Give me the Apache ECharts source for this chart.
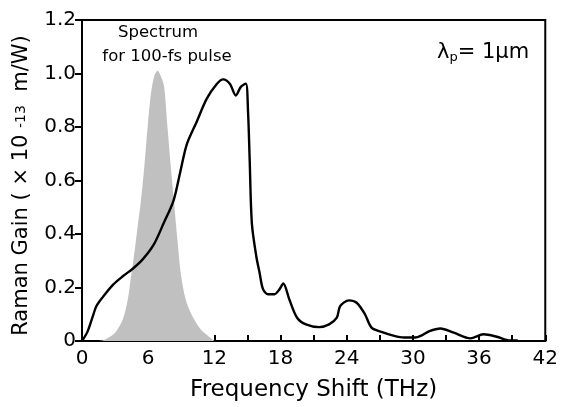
<!DOCTYPE html>
<html>
<head>
<meta charset="utf-8">
<script src="https://cdn.jsdelivr.net/npm/echarts@6/dist/echarts.min.js"></script>
<style>
html,body{margin:0;padding:0;background:#fff;}
#c{width:561px;height:407px;}
</style>
</head>
<body>
<div id="c"></div>
<script>
// Raman gain curve (THz, ×10^-13 m/W)
const gainX = [0, 0.5, 1.0, 1.3, 1.9, 2.8, 3.7, 4.6, 5.5, 6.5, 7.4, 8.3, 8.9, 9.5, 10.4, 11.3, 12.2, 12.8, 13.4, 13.95, 14.4, 14.85, 15.05, 15.2, 15.4, 15.8, 16.1, 16.4, 16.85, 17.45, 17.9, 18.25, 18.8, 19.5, 20.3, 21.5, 22.4, 23.1, 23.4, 24.2, 24.9, 25.65, 26.25, 27.15, 28.3, 29.2, 30.2, 30.7, 31.5, 32.5, 33.7, 35.2, 36.4, 37.6, 38.8, 39.5];
const gainY = [0, 0.035, 0.095, 0.13, 0.165, 0.21, 0.242, 0.27, 0.305, 0.36, 0.44, 0.525, 0.63, 0.735, 0.82, 0.905, 0.96, 0.978, 0.962, 0.918, 0.95, 0.962, 0.86, 0.68, 0.44, 0.317, 0.255, 0.195, 0.175, 0.175, 0.193, 0.215, 0.155, 0.087, 0.062, 0.052, 0.062, 0.087, 0.13, 0.152, 0.143, 0.1, 0.05, 0.034, 0.019, 0.013, 0.013, 0.019, 0.037, 0.047, 0.031, 0.01, 0.025, 0.016, 0.002, 0.002];
// Spectrum of the 100-fs pulse (normalized)
const specX = [1.5, 2.1, 3.0, 3.7, 4.15, 4.45, 4.75, 5.05, 5.35, 5.65, 5.95, 6.25, 6.55, 6.85, 7.15, 7.45, 7.75, 8.05, 8.35, 8.65, 8.95, 9.4, 10.0, 10.75, 11.6, 12.0];
const specY = [0, 0.006, 0.031, 0.081, 0.155, 0.242, 0.33, 0.429, 0.528, 0.652, 0.80, 0.925, 0.99, 1.01, 0.99, 0.95, 0.80, 0.652, 0.516, 0.379, 0.255, 0.155, 0.093, 0.044, 0.013, 0];
// Axis ticks
const xTicks = {min: 0, max: 42, step: 3, labelStep: 6};
const yTicks = {min: 0, max: 1.2, step: 0.2};

const FONT = '"DejaVu Sans", "Liberation Sans", Arial, sans-serif';
const chart = echarts.init(document.getElementById('c'), null, {renderer: 'canvas'});
chart.setOption({
  animation: false,
  backgroundColor: '#fff',
  grid: {left: 82, right: 11, top: 20, bottom: 65, show: true, borderColor: '#000', borderWidth: 2, backgroundColor: 'transparent'},
  xAxis: {
    type: 'value', min: xTicks.min, max: xTicks.max, interval: xTicks.step,
    name: 'Frequency Shift (THz)', nameLocation: 'middle', nameGap: 38,
    nameTextStyle: {fontFamily: FONT, fontSize: 23, color: '#000'},
    axisLine: {show: true, lineStyle: {color: '#000', width: 2}},
    axisTick: {show: true, inside: true, length: 6, lineStyle: {color: '#000', width: 2}},
    axisLabel: {fontFamily: FONT, fontSize: 20, color: '#000', margin: 8,
      formatter: v => (Math.round(v) % xTicks.labelStep === 0 ? String(Math.round(v)) : '')},
    splitLine: {show: false}
  },
  yAxis: {
    type: 'value', min: yTicks.min, max: yTicks.max, interval: yTicks.step,
    name: 'Raman Gain ( × 10 {s|-13}  m/W)', nameLocation: 'middle', nameGap: 50,
    nameTextStyle: {fontFamily: FONT, fontSize: 21, color: '#000', padding: [0, 10, 0, 0],
      rich: {s: {fontFamily: FONT, fontSize: 14, color: '#000'}}},
    axisLine: {show: true, lineStyle: {color: '#000', width: 2}},
    axisTick: {show: true, inside: false, length: 7, lineStyle: {color: '#000', width: 2}},
    axisLabel: {fontFamily: FONT, fontSize: 20, color: '#000', margin: 6,
      formatter: v => (v === 0 ? '0' : v.toFixed(1))},
    splitLine: {show: false}
  },
  series: [
    {
      type: 'line', name: 'spectrum', data: specX.map((x, i) => [x, specY[i]]),
      smooth: 0.3, symbol: 'none', silent: true, z: 1,
      lineStyle: {width: 0, color: '#c0c0c0'},
      areaStyle: {color: '#c0c0c0', opacity: 1}
    },
    {
      type: 'line', name: 'gain', data: gainX.map((x, i) => [x, gainY[i]]),
      smooth: 0.3, symbol: 'none', silent: true, z: 3,
      lineStyle: {width: 2.4, color: '#000'}
    }
  ],
  graphic: [
    {type: 'text', x: 158, y: 33, style: {text: 'Spectrum', fontFamily: FONT, fontSize: 16.5, fill: '#000', align: 'center', verticalAlign: 'middle'}},
    {type: 'text', x: 167, y: 57, style: {text: 'for 100-fs pulse', fontFamily: FONT, fontSize: 16.5, fill: '#000', align: 'center', verticalAlign: 'middle'}},
    {type: 'text', x: 437, y: 53, style: {
      text: 'λ{p|p}= 1μm', fontFamily: FONT, fontSize: 21, fill: '#000', align: 'left', verticalAlign: 'middle',
      rich: {p: {fontFamily: FONT, fontSize: 13, fill: '#000', padding: [10, 0, 0, 0]}}
    }}
  ]
});
</script>
</body>
</html>
